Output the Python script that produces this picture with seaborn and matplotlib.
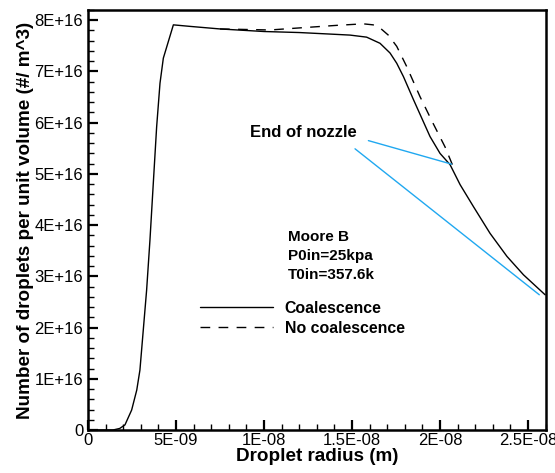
import numpy as np
import pandas as pd
import matplotlib
matplotlib.use("Agg")
import matplotlib.pyplot as plt
from matplotlib.ticker import MultipleLocator, FixedLocator, FixedFormatter
from matplotlib.lines import Line2D
import seaborn as sns

# ---- data ----
r_coal = [0.0, 1.0e-9, 1.42e-9, 1.8e-9, 2.10e-9, 2.48e-9, 2.77e-9, 2.95e-9, 3.14e-9,
          3.33e-9, 3.52e-9, 3.71e-9, 3.90e-9, 4.09e-9, 4.28e-9, 4.85e-9, 5.8e-9,
          7.5e-9, 1.0e-8, 1.2e-8, 1.375e-8, 1.489e-8, 1.583e-8, 1.659e-8, 1.716e-8,
          1.754e-8, 1.792e-8, 1.849e-8, 1.943e-8, 2.0e-8, 2.057e-8, 2.114e-8, 2.19e-8,
          2.284e-8, 2.38e-8, 2.474e-8, 2.597e-8]
n_coal = [0.0, 0.0, 0.0, 0.03e16, 0.1e16, 0.39e16, 0.78e16, 1.17e16, 1.95e16,
          2.73e16, 3.71e16, 4.82e16, 5.92e16, 6.77e16, 7.26e16, 7.91e16, 7.88e16,
          7.83e16, 7.78e16, 7.76e16, 7.73e16, 7.71e16, 7.67e16, 7.55e16, 7.36e16,
          7.16e16, 6.90e16, 6.45e16, 5.73e16, 5.40e16, 5.18e16, 4.79e16, 4.36e16,
          3.84e16, 3.39e16, 3.03e16, 2.64e16]

r_nocoal = [7.5e-9, 1.034e-8, 1.2e-8, 1.413e-8, 1.564e-8, 1.62e-8, 1.659e-8, 1.706e-8,
            1.754e-8, 1.81e-8, 1.886e-8, 1.96e-8, 2.028e-8, 2.07e-8]
n_nocoal = [7.83e16, 7.81e16, 7.85e16, 7.90e16, 7.93e16, 7.91e16, 7.85e16, 7.71e16,
            7.49e16, 7.10e16, 6.51e16, 5.99e16, 5.53e16, 5.18e16]

# pointer lines from "End of nozzle"
ptr1_r = [1.593e-8, 2.066e-8]
ptr1_n = [5.65e16, 5.19e16]
ptr2_r = [1.517e-8, 2.564e-8]
ptr2_n = [5.49e16, 2.64e16]

x_ticks = [0, 5e-9, 1e-8, 1.5e-8, 2e-8, 2.5e-8]
x_labels = ["0", "5E-09", "1E-08", "1.5E-08", "2E-08", "2.5E-08"]
y_ticks = [0, 1e16, 2e16, 3e16, 4e16, 5e16, 6e16, 7e16, 8e16]
y_labels = ["0", "1E+16", "2E+16", "3E+16", "4E+16", "5E+16", "6E+16", "7E+16", "8E+16"]

series_names = ["Coalescence", "No coalescence"]
annot_lines = ["Moore B", "P0in=25kpa", "T0in=357.6k"]

sns.set_style("ticks")
plt.rcParams["font.family"] = ["Liberation Sans", "DejaVu Sans"]
plt.rcParams["text.color"] = "black"
plt.rcParams["axes.labelcolor"] = "black"

fig = plt.figure(figsize=(5.55, 4.73), dpi=100)
ax = fig.add_axes([88 / 555, 1 - 430 / 473, (546 - 88) / 555, (430 - 10) / 473])

df1 = pd.DataFrame({"r": r_coal, "n": n_coal})
df2 = pd.DataFrame({"r": r_nocoal, "n": n_nocoal})
sns.lineplot(data=df1, x="r", y="n", ax=ax, color="black", lw=1.0, sort=False)
sns.lineplot(data=df2, x="r", y="n", ax=ax, color="black", lw=1.0, sort=False)
ax.lines[-1].set_dashes((7, 6))

ax.plot(ptr1_r, ptr1_n, color="#20A8F0", lw=1.0)
ax.plot(ptr2_r, ptr2_n, color="#20A8F0", lw=1.0)

ax.set_xlim(0, 2.602e-8)
ax.set_ylim(0, 8.2e16)

ax.xaxis.set_major_locator(FixedLocator(x_ticks))
ax.xaxis.set_major_formatter(FixedFormatter(x_labels))
ax.xaxis.set_minor_locator(MultipleLocator(1e-9))
ax.yaxis.set_major_locator(FixedLocator(y_ticks))
ax.yaxis.set_major_formatter(FixedFormatter(y_labels))
ax.yaxis.set_minor_locator(MultipleLocator(2e15))

ax.tick_params(which="both", direction="in", top=False, right=False, labelsize=12,
               colors="black", labelcolor="black")
ax.tick_params(which="major", length=7, width=1.6)
ax.tick_params(which="minor", length=4.5, width=1.0)
ax.tick_params(axis="x", pad=2)
ax.tick_params(axis="y", pad=3.5)

for s in ax.spines.values():
    s.set_visible(True)
    s.set_linewidth(1.8)
    s.set_color("black")

ax.set_xlabel("Droplet radius (m)", fontsize=13.6, fontweight="bold", labelpad=0)
ax.set_ylabel("Number of droplets per unit volume (#/ m^3)", fontsize=13.6,
              fontweight="bold", labelpad=0)

ax.text(250, 473 - 132.7, "End of nozzle", transform=None, fontsize=12,
        fontweight="bold", va="center", ha="left")
for i, t in enumerate(annot_lines):
    ax.text(288, 473 - (236.7 + 19.2 * i), t, transform=None, fontsize=11,
            fontweight="bold", va="center", ha="left")

handles = [Line2D([], [], color="black", lw=1.0),
           Line2D([], [], color="black", lw=1.0, dashes=(7, 6))]
leg = ax.legend(handles, series_names, loc="upper left",
                bbox_to_anchor=(200 / 555, 1 - 301 / 473), bbox_transform=fig.transFigure,
                frameon=False, fontsize=11.4, handlelength=4.6, handletextpad=0.75,
                labelspacing=0.3, borderpad=0, borderaxespad=0)
for t in leg.get_texts():
    t.set_fontweight("bold")
    t.set_color("black")

fig.savefig("out.png", dpi=100)
